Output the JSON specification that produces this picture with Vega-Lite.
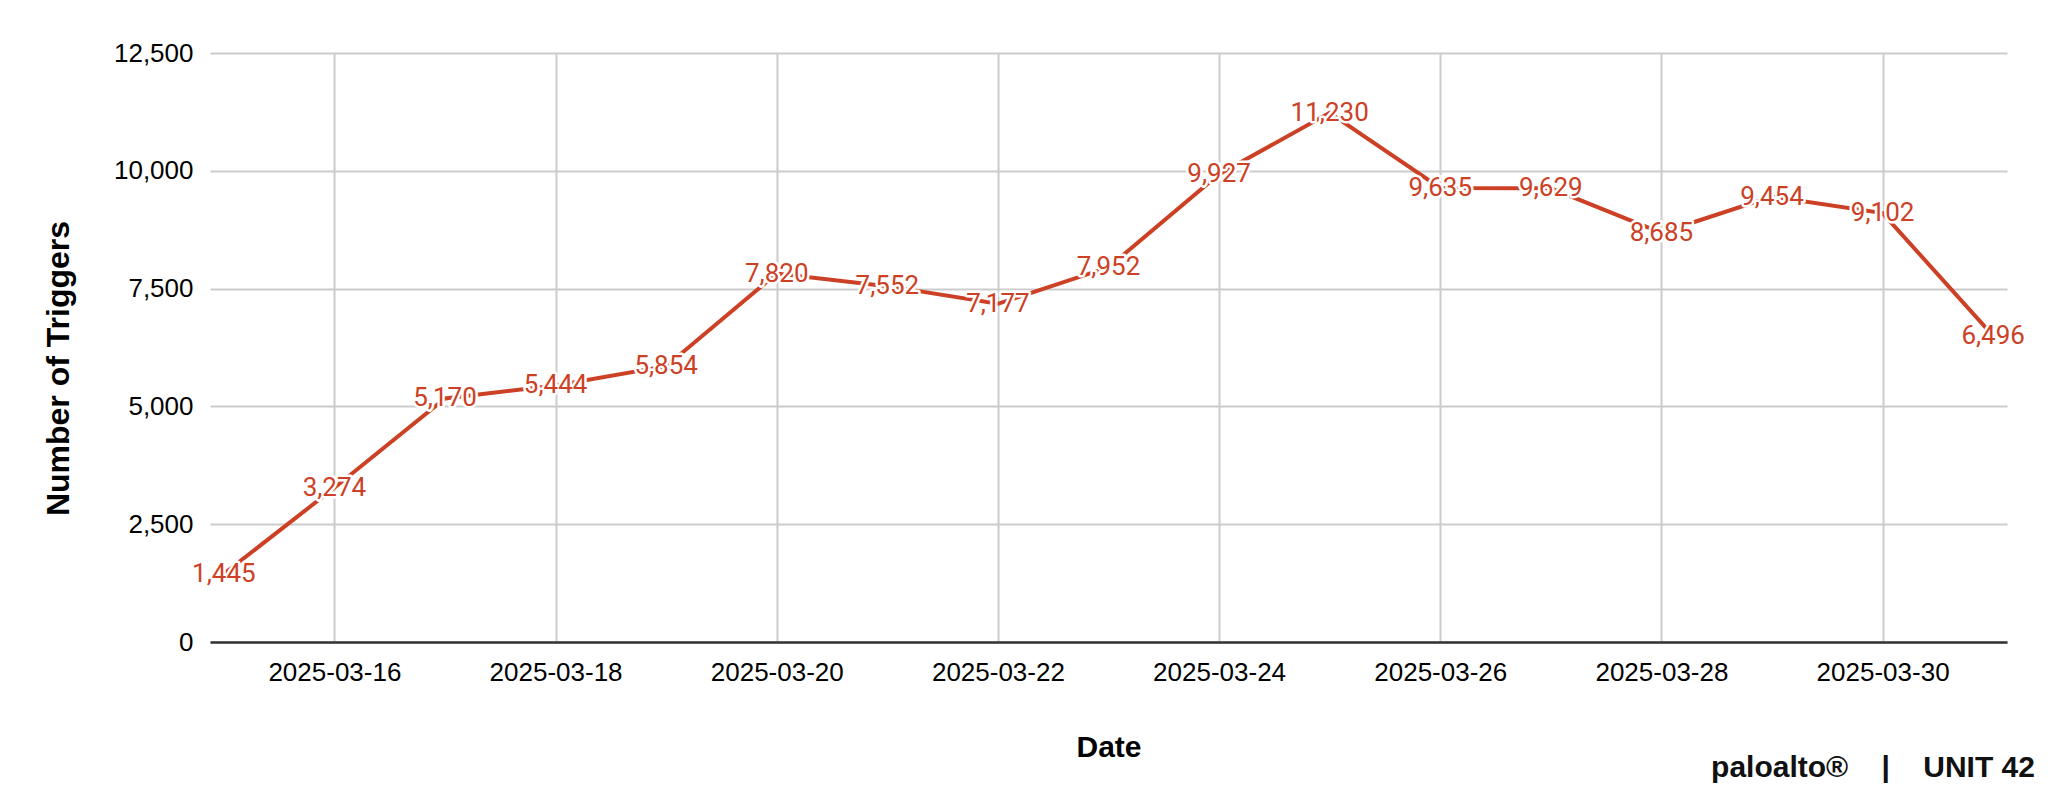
{
  "$schema": "https://vega.github.io/schema/vega-lite/v6.json",
  "width": 1797,
  "height": 589,
  "autosize": {"type": "none"},
  "padding": {"left": 210, "top": 53, "right": 41, "bottom": 157},
  "background": "white",
  "config": {"view": {"stroke": null}},
  "title": {
    "text": "paloalto®\u00a0\u00a0\u00a0\u00a0|\u00a0\u00a0\u00a0\u00a0UNIT 42",
    "orient": "bottom",
    "anchor": "end",
    "font": "Liberation Sans",
    "fontSize": 30,
    "fontWeight": "bold",
    "color": "#111111",
    "dx": 10,
    "offset": -9
  },
  "data": {
    "values": [
      {"date": "2025-03-15", "count": 1445},
      {"date": "2025-03-16", "count": 3274},
      {"date": "2025-03-17", "count": 5170},
      {"date": "2025-03-18", "count": 5444},
      {"date": "2025-03-19", "count": 5854},
      {"date": "2025-03-20", "count": 7820},
      {"date": "2025-03-21", "count": 7552},
      {"date": "2025-03-22", "count": 7177},
      {"date": "2025-03-23", "count": 7952},
      {"date": "2025-03-24", "count": 9927},
      {"date": "2025-03-25", "count": 11230},
      {"date": "2025-03-26", "count": 9635},
      {"date": "2025-03-27", "count": 9629},
      {"date": "2025-03-28", "count": 8685},
      {"date": "2025-03-29", "count": 9454},
      {"date": "2025-03-30", "count": 9102},
      {"date": "2025-03-31", "count": 6496}
    ]
  },
  "encoding": {
    "x": {
      "field": "date",
      "type": "temporal",
      "title": "Date",
      "scale": {
        "type": "utc",
        "domain": [
          {"year": 2025, "month": 3, "date": 14, "hours": 21, "utc": true},
          {"year": 2025, "month": 3, "date": 31, "hours": 3, "utc": true}
        ]
      },
      "axis": {
        "values": [
          {"year": 2025, "month": 3, "date": 16, "utc": true},
          {"year": 2025, "month": 3, "date": 18, "utc": true},
          {"year": 2025, "month": 3, "date": 20, "utc": true},
          {"year": 2025, "month": 3, "date": 22, "utc": true},
          {"year": 2025, "month": 3, "date": 24, "utc": true},
          {"year": 2025, "month": 3, "date": 26, "utc": true},
          {"year": 2025, "month": 3, "date": 28, "utc": true},
          {"year": 2025, "month": 3, "date": 30, "utc": true}
        ],
        "labelExpr": "utcFormat(datum.value, '%Y-%m-%d')",
        "labelFont": "Liberation Sans",
        "labelFontSize": 26,
        "labelColor": "#000000",
        "labelPadding": 17,
        "labelFlush": false,
        "labelOverlap": false,
        "ticks": false,
        "tickSize": 0,
        "grid": true,
        "gridColor": "#cccccc",
        "gridWidth": 2,
        "domain": true,
        "domainColor": "#333333",
        "domainWidth": 2.5,
        "titleFont": "Liberation Sans",
        "titleFontSize": 30,
        "titleFontWeight": "bold",
        "titleColor": "#000000",
        "titleBaseline": "alphabetic",
        "titleY": 114
      }
    },
    "y": {
      "field": "count",
      "type": "quantitative",
      "title": "Number of Triggers",
      "scale": {"domain": [0, 12500], "nice": false, "zero": true},
      "axis": {
        "values": [0, 2500, 5000, 7500, 10000, 12500],
        "labelExpr": "format(datum.value, ',')",
        "labelFont": "Liberation Sans",
        "labelFontSize": 26,
        "labelColor": "#000000",
        "labelPadding": 17,
        "ticks": false,
        "tickSize": 0,
        "domain": false,
        "grid": true,
        "gridColor": "#cccccc",
        "gridWidth": 2,
        "titleFont": "Liberation Sans",
        "titleFontSize": 32,
        "titleFontWeight": "bold",
        "titleColor": "#000000",
        "titleBaseline": "alphabetic",
        "titleAlign": "center",
        "titleAngle": -90,
        "titleX": -142,
        "titleY": 315
      }
    }
  },
  "layer": [
    {
      "mark": {"type": "line", "color": "#cc4125", "strokeWidth": 4}
    },
    {
      "mark": {
        "type": "text",
        "font": "Roboto",
        "fontSize": 26,
        "baseline": "middle",
        "align": "center",
        "fill": "white",
        "stroke": "white",
        "strokeWidth": 5,
        "strokeJoin": "round"
      },
      "encoding": {"text": {"field": "count", "type": "quantitative", "format": ","}}
    },
    {
      "mark": {
        "type": "text",
        "font": "Roboto",
        "fontSize": 26,
        "baseline": "middle",
        "align": "center",
        "color": "#cc4125"
      },
      "encoding": {"text": {"field": "count", "type": "quantitative", "format": ","}}
    }
  ]
}
